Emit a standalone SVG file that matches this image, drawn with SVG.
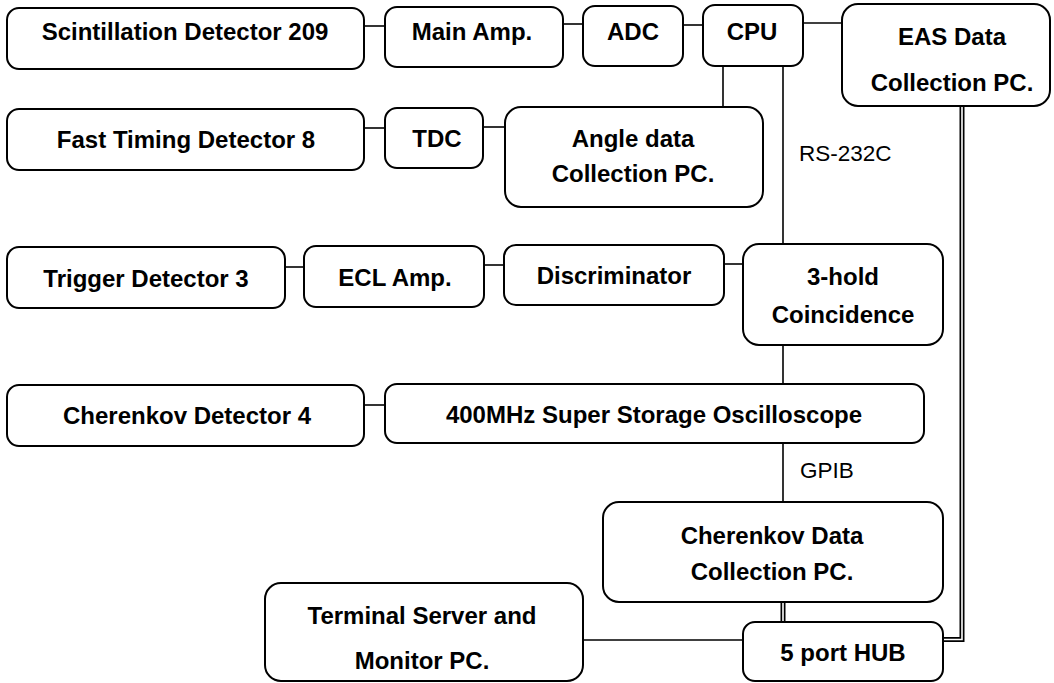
<svg xmlns="http://www.w3.org/2000/svg" width="1054" height="683" viewBox="0 0 1054 683">
<style>
.box{fill:#fff;stroke:#000;stroke-width:2}
.t{font-family:"Liberation Sans",Arial,sans-serif;font-weight:bold;font-size:24px;text-anchor:middle;fill:#000}
.l{font-family:"Liberation Sans",Arial,sans-serif;font-size:22.5px;fill:#000}
.c{stroke:#000;stroke-width:1.6;fill:none}
.dbo{stroke:#000;stroke-width:5;fill:none}
.dbi{stroke:#fff;stroke-width:1.6;fill:none}
</style>
<rect width="1054" height="683" fill="#fff"/>
<g id="connectors">
<line class="c" x1="364" y1="26" x2="385" y2="26"/>
<line class="c" x1="563" y1="24" x2="583" y2="24"/>
<line class="c" x1="683" y1="25" x2="703" y2="25"/>
<line class="c" x1="803" y1="23" x2="842" y2="23"/>
<line class="c" x1="723" y1="66" x2="723" y2="107"/>
<line class="c" x1="783" y1="66" x2="783" y2="244"/>
<line class="c" x1="364" y1="128" x2="385" y2="128"/>
<line class="c" x1="483" y1="127" x2="505" y2="127"/>
<line class="c" x1="285" y1="267" x2="304" y2="267"/>
<line class="c" x1="484" y1="265" x2="504" y2="265"/>
<line class="c" x1="724" y1="264" x2="743" y2="264"/>
<line class="c" x1="783" y1="345" x2="783" y2="384"/>
<line class="c" x1="364" y1="405" x2="385" y2="405"/>
<line class="c" x1="783" y1="443" x2="783" y2="502"/>
<line class="c" x1="583" y1="640" x2="743" y2="640"/>
<path class="dbo" d="M783,602 V622"/>
<path class="dbi" d="M783,602 V622"/>
<path class="dbo" d="M962,106 V639.5 H943"/>
<path class="dbi" d="M962,106 V639.5 H943"/>
<text class="l" x="799" y="161">RS-232C</text>
<text class="l" x="800" y="478">GPIB</text>
</g>
<g id="n-scint"><rect class="box" x="7" y="8" width="357" height="61" rx="12"/><text class="t" x="185" y="40">Scintillation Detector 209</text></g>
<g id="n-mainamp"><rect class="box" x="385" y="7" width="178" height="60" rx="12"/><text class="t" x="472" y="40">Main Amp.</text></g>
<g id="n-adc"><rect class="box" x="583" y="6" width="100" height="60" rx="12"/><text class="t" x="633" y="40">ADC</text></g>
<g id="n-cpu"><rect class="box" x="703" y="5" width="100" height="61" rx="12"/><text class="t" x="752" y="40">CPU</text></g>
<g id="n-eas"><rect class="box" x="842" y="4" width="208" height="102" rx="16"/><text class="t" x="952" y="45">EAS Data</text><text class="t" x="952" y="91">Collection PC.</text></g>
<g id="n-fast"><rect class="box" x="7" y="109" width="357" height="61" rx="12"/><text class="t" x="186" y="148">Fast Timing Detector 8</text></g>
<g id="n-tdc"><rect class="box" x="385" y="108" width="98" height="60" rx="12"/><text class="t" x="437" y="147">TDC</text></g>
<g id="n-angle"><rect class="box" x="505" y="107" width="258" height="100" rx="16"/><text class="t" x="633" y="147">Angle data</text><text class="t" x="633" y="182">Collection PC.</text></g>
<g id="n-trigger"><rect class="box" x="7" y="247" width="278" height="61" rx="12"/><text class="t" x="146" y="287">Trigger Detector 3</text></g>
<g id="n-ecl"><rect class="box" x="304" y="246" width="180" height="61" rx="12"/><text class="t" x="395" y="286">ECL Amp.</text></g>
<g id="n-disc"><rect class="box" x="504" y="245" width="220" height="60" rx="12"/><text class="t" x="614" y="284">Discriminator</text></g>
<g id="n-coinc"><rect class="box" x="743" y="244" width="200" height="101" rx="16"/><text class="t" x="843" y="285">3-hold</text><text class="t" x="843" y="323">Coincidence</text></g>
<g id="n-cher"><rect class="box" x="7" y="385" width="357" height="61" rx="12"/><text class="t" x="187" y="424">Cherenkov Detector 4</text></g>
<g id="n-osc"><rect class="box" x="385" y="384" width="539" height="59" rx="12"/><text class="t" x="654" y="423">400MHz Super Storage Oscilloscope</text></g>
<g id="n-cherpc"><rect class="box" x="603" y="502" width="340" height="100" rx="16"/><text class="t" x="772" y="544">Cherenkov Data</text><text class="t" x="772" y="580">Collection PC.</text></g>
<g id="n-term"><rect class="box" x="265" y="583" width="318" height="98" rx="16"/><text class="t" x="422" y="624">Terminal Server and</text><text class="t" x="422" y="669">Monitor PC.</text></g>
<g id="n-hub"><rect class="box" x="743" y="622" width="200" height="59" rx="12"/><text class="t" x="843" y="661">5 port HUB</text></g>
</svg>
